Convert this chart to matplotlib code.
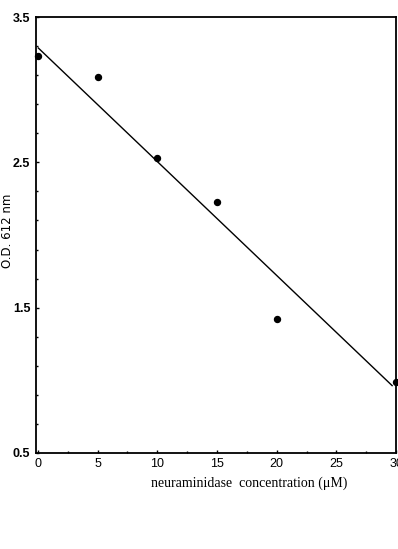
import numpy as np
import matplotlib
matplotlib.use("Agg")
import matplotlib.pyplot as plt
from matplotlib.ticker import FixedLocator, MultipleLocator

# Data
conc = [0, 5, 10, 15, 20, 30]
od = [3.23, 3.09, 2.53, 2.23, 1.42, 0.99]
fit_x = [0, 29.7]
fit_y = [3.29, 0.96]
xticks = [0, 5, 10, 15, 20, 25, 30]
yticks = [0.5, 1.5, 2.5, 3.5]
ytick_labels = ["0.5", "1.5", "2.5", "3.5"]

fig = plt.figure(figsize=(3.98, 5.49), dpi=100)
ax = fig.add_axes([0.0905, 0.175, 0.905, 0.794])

ax.plot(fit_x, fit_y, color="black", lw=1.0, solid_capstyle="butt")
ax.plot(conc, od, "o", color="black", ms=4.3, clip_on=False, zorder=3)

ax.set_xlim(-0.15, 30)
ax.set_ylim(0.5, 3.5)
ax.set_xticks(xticks)
ax.set_xticklabels([str(t) for t in xticks])
ax.xaxis.set_minor_locator(MultipleLocator(2.5))
ax.set_yticks(yticks)
ax.set_yticklabels(ytick_labels)
ax.yaxis.set_minor_locator(FixedLocator(np.arange(0.5, 3.51, 0.2)))

for s in ax.spines.values():
    s.set_linewidth(1.3)
ax.tick_params(which="both", direction="in", length=2, width=1, labelsize=9)
ax.tick_params(axis="x", pad=4)
ax.tick_params(axis="y", pad=4)
ax.tick_params(which="minor", length=1.5)
for lab in ax.get_xticklabels() + ax.get_yticklabels():
    lab.set_family("Liberation Sans")
for lab in ax.get_yticklabels():
    lab.set_fontweight("bold")

ax.set_xlabel("neuraminidase  concentration (\u03bcM)", family="Liberation Serif",
              fontsize=10)
ax.xaxis.set_label_coords(0.592, -0.053)
ax.set_ylabel("O.D. 612 nm", family="DejaVu Sans", fontsize=8.5)
ax.yaxis.set_label_coords(-0.062, 0.509)

fig.savefig("out.png", dpi=100)
